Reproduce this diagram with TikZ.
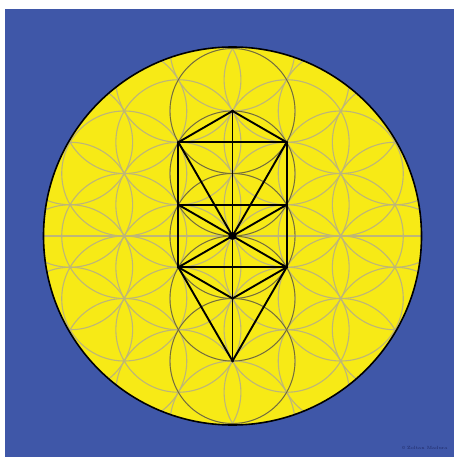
\documentclass[tikz,border=0pt]{standalone}
\definecolor{bgblue}{RGB}{63,87,168}
\definecolor{sunyellow}{RGB}{247,234,22}
\definecolor{petal}{RGB}{190,182,120}
\definecolor{darkring}{RGB}{120,112,40}
\definecolor{signblue}{RGB}{30,40,100}
\tikzset{
  petalline/.style={draw=petal, line width=1.1pt},
  darkline/.style={draw=darkring, line width=0.9pt},
  treeline/.style={draw=black, line width=1.9pt, line join=round, line cap=round},
  joint/.style={circle, fill=black, inner sep=0pt, minimum size=3pt},
  hub/.style={circle, fill=black, inner sep=0pt, minimum size=8pt},
}
\begin{document}
\begin{tikzpicture}[x=1pt,y=-1pt]
\useasboundingbox (0,0) rectangle (454,457);
\fill[white] (0,0) rectangle (454,457);
\fill[bgblue] (5,9) rectangle (454,457);
\def\cx{232.5}
\def\cy{236}
\def\rr{62.5}
\fill[sunyellow] (\cx,\cy) circle (189);
\begin{scope}
  \clip (\cx,\cy) circle (189);
  \foreach \i in {-3,...,3}{
    \foreach \j in {-4,...,4}{
      \pgfmathsetmacro\dd{0.75*\i*\i+(\j+\i/2)*(\j+\i/2)}
      \ifdim\dd pt<9.01pt
        \draw[petalline] ({\cx+\i*0.8660254*\rr},{\cy+(\j+\i/2)*\rr}) circle (\rr);
      \fi
    }
  }
  \draw[petalline] (\cx-189,\cy) -- (\cx+189,\cy);
  \foreach \k in {-2,...,2}{
    \draw[darkline] (\cx,{\cy+\k*\rr}) circle (\rr);
  }
\end{scope}
\draw[black, line width=1.6pt] (\cx,\cy) circle (189);
% tree of life
\coordinate (K)  at (\cx,{\cy-2*\rr});
\coordinate (TL) at ({\cx-0.8660254*\rr},{\cy-1.5*\rr});
\coordinate (TR) at ({\cx+0.8660254*\rr},{\cy-1.5*\rr});
\coordinate (ML) at ({\cx-0.8660254*\rr},{\cy-0.5*\rr});
\coordinate (MR) at ({\cx+0.8660254*\rr},{\cy-0.5*\rr});
\coordinate (BL) at ({\cx-0.8660254*\rr},{\cy+0.5*\rr});
\coordinate (BR) at ({\cx+0.8660254*\rr},{\cy+0.5*\rr});
\coordinate (T)  at (\cx,\cy);
\coordinate (Y)  at (\cx,{\cy+\rr});
\coordinate (M)  at (\cx,{\cy+2*\rr});
\draw[treeline] (TL) -- (K) -- (TR);
\draw[treeline] (TL) -- (TR);
\draw[treeline] (ML) -- (MR);
\draw[treeline] (BL) -- (BR);
\draw[treeline] (TL) -- (BL);
\draw[treeline] (TR) -- (BR);
\draw[treeline] (K) -- (M);
\foreach \p in {TL,TR,ML,MR,BL,BR}{ \draw[treeline] (\p) -- (T); }
\draw[treeline] (BL) -- (Y) -- (BR);
\draw[treeline] (BL) -- (M) -- (BR);
\node[hub] (hubT) at (T) {};
\foreach \p in {K,TL,TR,ML,MR,BL,BR,Y,M}{ \node[joint] (j\p) at (\p) {}; }
\node[text=signblue, font=\fontsize{4.5}{5}\selectfont, anchor=east] (sign) at (451,448) {\textcopyright\ Zoltan Madura};
\end{tikzpicture}
\end{document}
